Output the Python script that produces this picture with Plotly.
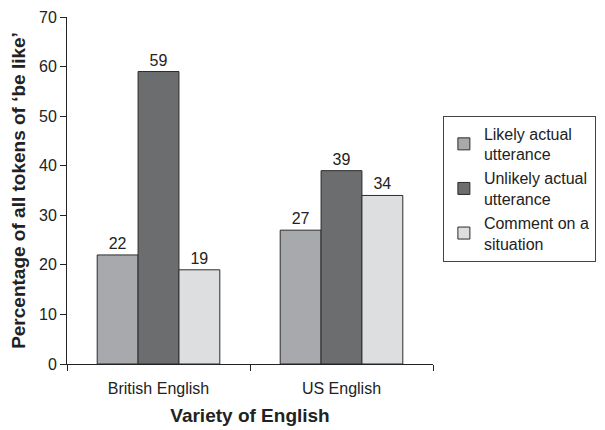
import plotly.graph_objects as go

varieties = ["British English", "US English"]
series_names = ["Likely actual<br>utterance", "Unlikely actual<br>utterance", "Comment on a<br>situation"]
likely = [22, 27]
unlikely = [59, 39]
comment = [19, 34]
colors = ["#a8a9ac", "#6c6d6f", "#dddee0"]

fig = go.Figure()
for name, vals, col in zip(series_names, [likely, unlikely, comment], colors):
    fig.add_trace(go.Bar(
        x=varieties, y=vals, name=name,
        marker=dict(color=col, line=dict(color="#2b2b2b", width=1)),
        text=[str(v) for v in vals], textposition="outside",
        textfont=dict(size=16, color="#222"), cliponaxis=False,
    ))

# page body has an 8px margin, so the figure is 8px smaller than the window
fig.update_layout(
    width=597, height=422,
    margin=dict(l=59, r=172, t=9, b=66),
    paper_bgcolor="white", plot_bgcolor="white",
    font=dict(family="Liberation Sans, Arial, sans-serif", size=16, color="#222"),
    barmode="group", bargap=0.33, bargroupgap=0,
    showlegend=True,
    legend=dict(x=1.027, y=0.716, xanchor="left", yanchor="top",
                bordercolor="#444", borderwidth=1, font=dict(size=16),
                tracegroupgap=0),
    xaxis=dict(showline=True, linecolor="#222", ticks="outside", tickson="boundaries",
               ticklen=6, tickcolor="#222", automargin=False, ticklabelstandoff=10,
               title=dict(text="<b>Variety of English</b>", standoff=12)),
    yaxis=dict(range=[0, 70], dtick=10, showline=True, linecolor="#222", ticks="outside",
               ticklen=6, tickcolor="#222", showgrid=False, zeroline=False, automargin=False,
               ticklabeloverflow="allow",
               title=dict(text="<b>Percentage of all tokens of ‘be like’</b>", standoff=12)),
)

fig.write_html("out.html")
